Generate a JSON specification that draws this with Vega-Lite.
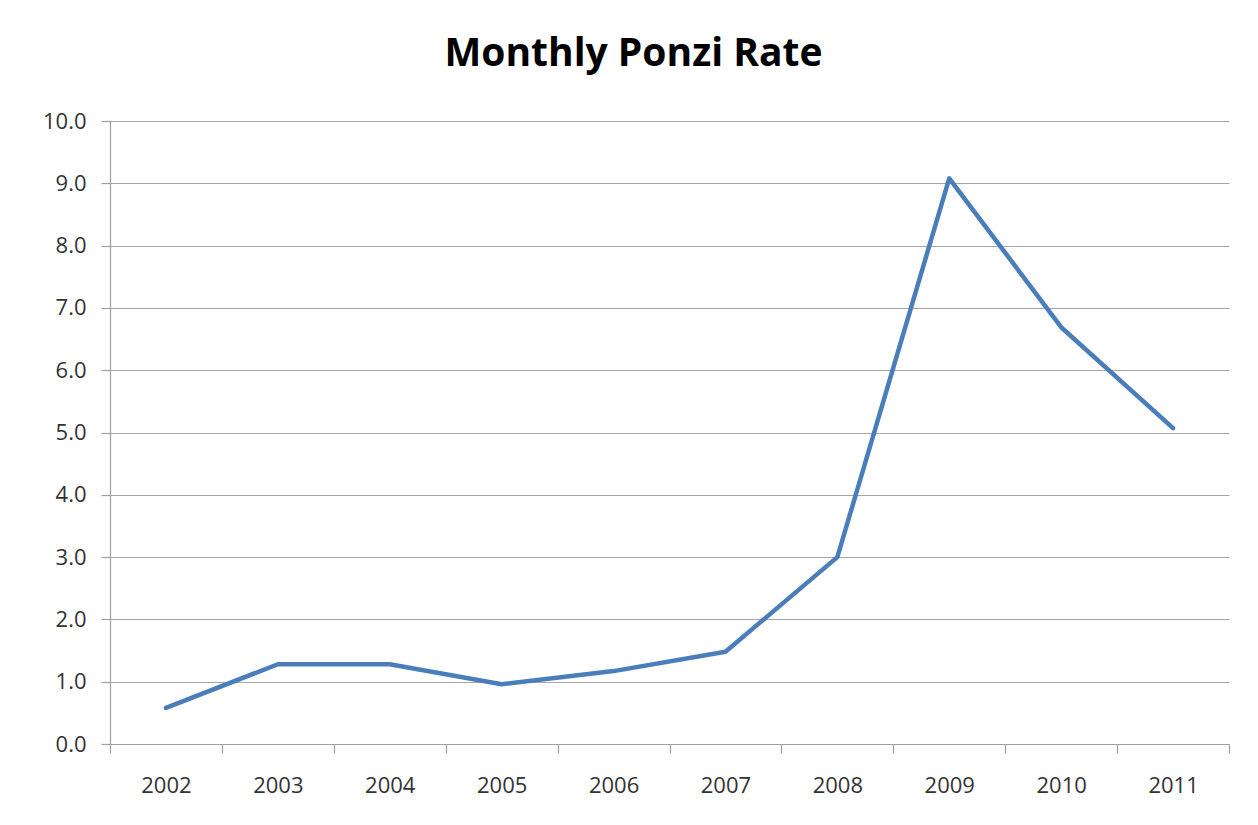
{
  "$schema": "https://vega.github.io/schema/vega-lite/v6.json",
  "autosize": "none",
  "width": 1119,
  "height": 623,
  "padding": {"left": 110, "top": 121, "right": 29, "bottom": 81},
  "background": "white",
  "title": {
    "text": "Monthly Ponzi Rate",
    "font": "Open Sans",
    "fontSize": 39,
    "fontWeight": "bold",
    "color": "#000000",
    "anchor": "middle",
    "frame": "group",
    "dx": -36,
    "baseline": "alphabetic",
    "offset": 5
  },
  "config": {
    "view": {"stroke": null},
    "axis": {
      "labelFont": "Open Sans",
      "labelFontSize": 22,
      "labelColor": "#333333",
      "domainColor": "#a0a0a0",
      "tickColor": "#a0a0a0",
      "gridColor": "#a6a6a6",
      "domainWidth": 1.2,
      "tickWidth": 1.2,
      "gridWidth": 1.2
    }
  },
  "data": {
    "values": [
      {"year": 2002, "rate": 0.58},
      {"year": 2003, "rate": 1.28},
      {"year": 2004, "rate": 1.28},
      {"year": 2005, "rate": 0.96},
      {"year": 2006, "rate": 1.17},
      {"year": 2007, "rate": 1.48},
      {"year": 2008, "rate": 3.0},
      {"year": 2009, "rate": 9.08},
      {"year": 2010, "rate": 6.69},
      {"year": 2011, "rate": 5.07}
    ]
  },
  "layer": [
    {
      "mark": {"type": "line", "color": "#4a7ebb", "strokeWidth": 4.5, "strokeJoin": "round", "strokeCap": "round"},
      "encoding": {
        "x": {
          "field": "year",
          "type": "quantitative",
          "scale": {"domain": [2001.5, 2011.5], "nice": false, "zero": false},
          "axis": {
            "orient": "bottom",
            "title": null,
            "grid": false,
            "labels": false,
            "values": [2001.5, 2002.5, 2003.5, 2004.5, 2005.5, 2006.5, 2007.5, 2008.5, 2009.5, 2010.5, 2011.5],
            "tickSize": 9
          }
        },
        "y": {
          "field": "rate",
          "type": "quantitative",
          "scale": {"domain": [0, 10], "nice": false},
          "axis": {
            "title": null,
            "values": [0, 1, 2, 3, 4, 5, 6, 7, 8, 9, 10],
            "format": ".1f",
            "grid": true,
            "tickSize": 9,
            "labelPadding": 15
          }
        }
      }
    },
    {
      "mark": {"type": "point", "opacity": 0},
      "encoding": {
        "x": {
          "field": "year",
          "type": "quantitative",
          "axis": {
            "orient": "bottom",
            "title": null,
            "grid": false,
            "domain": false,
            "ticks": false,
            "values": [2002, 2003, 2004, 2005, 2006, 2007, 2008, 2009, 2010, 2011],
            "format": "d",
            "labelPadding": 31,
            "labelBaseline": "top"
          }
        },
        "y": {"field": "rate", "type": "quantitative"}
      }
    }
  ],
  "resolve": {"axis": {"x": "independent"}}
}
